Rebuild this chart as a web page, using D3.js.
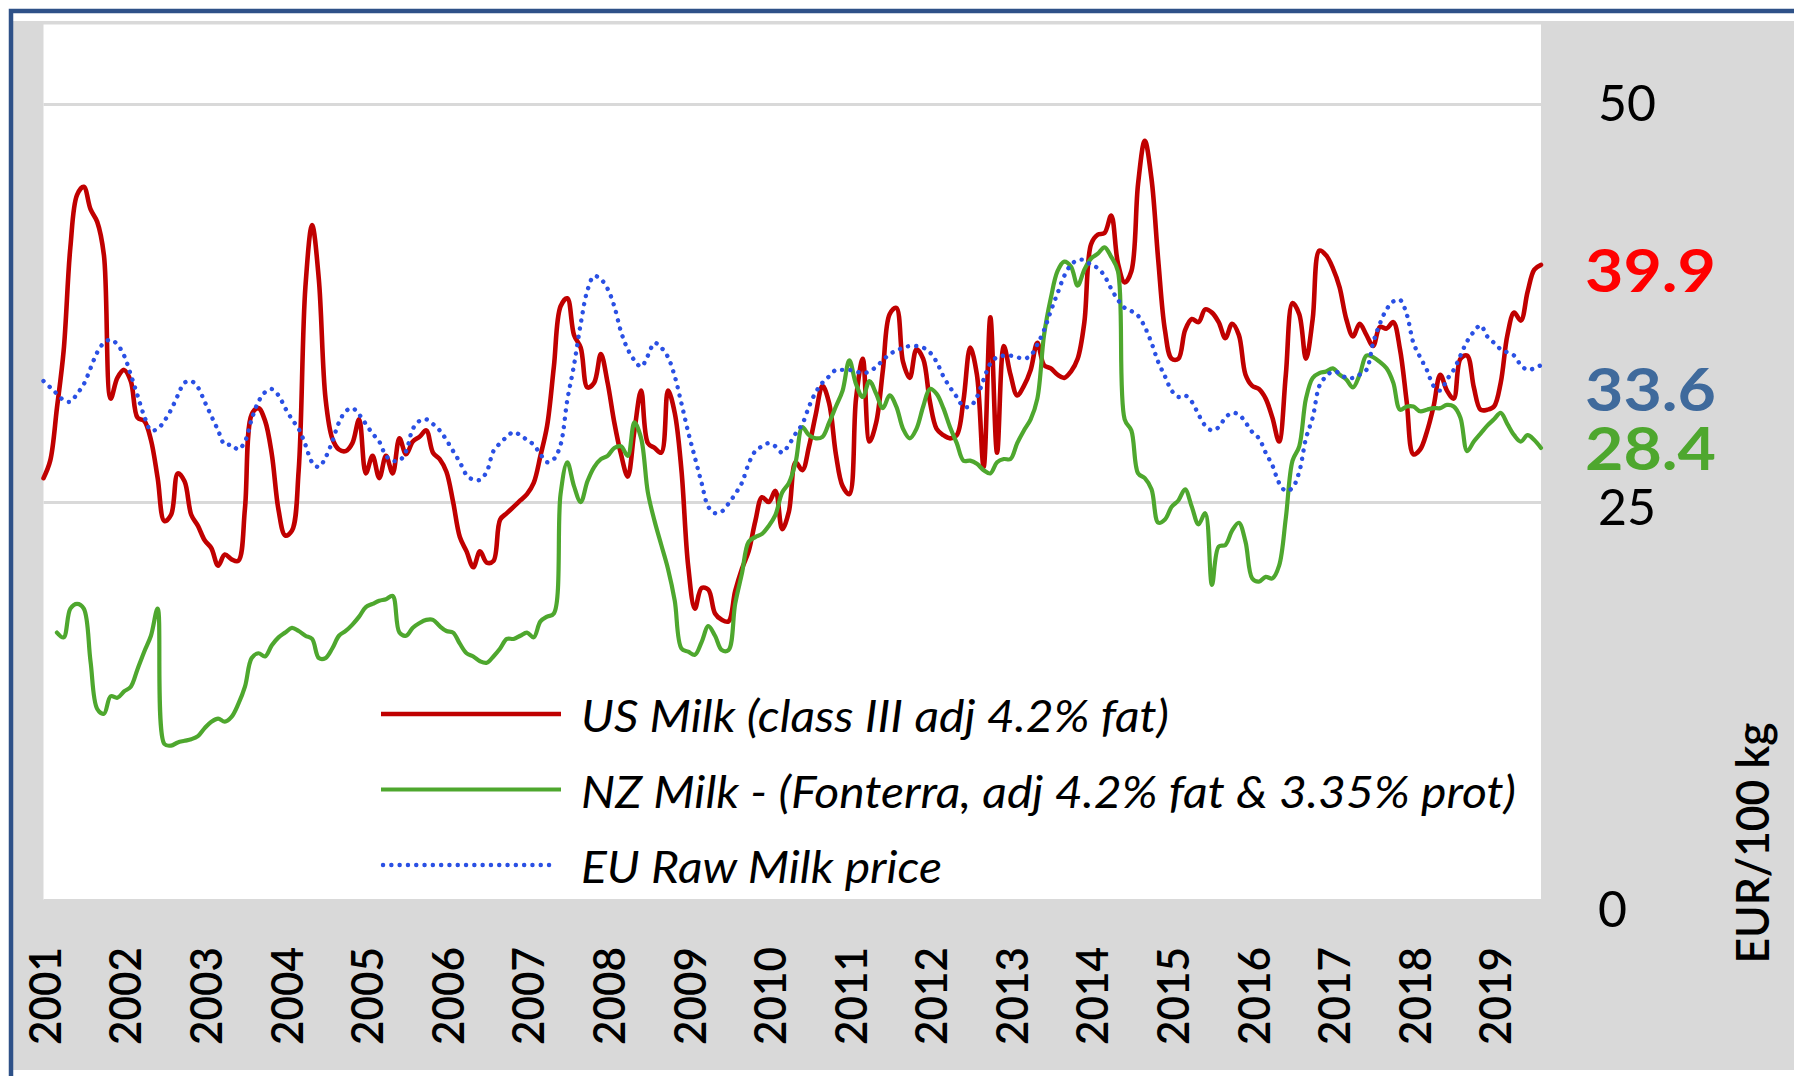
<!DOCTYPE html>
<html>
<head>
<meta charset="utf-8">
<script src="https://cdn.jsdelivr.net/npm/d3@7"></script>
<style>
  body { margin: 0; background: #fff; }
  text { font-family: Lato, "Open Sans", sans-serif; }
</style>
</head>
<body>
<script>
// monthly prices, EUR/100 kg, Jan 2001 - Aug 2019
var years = d3.range(2001, 2020);

var usMilk = [
  26.5, 27.6, 30.9, 34.5, 41.0, 44.3, 44.8, 43.4, 42.6, 40.5, 31.5, 32.8, 33.3, 32.6, 30.3, 30.1, 28.9, 26.5, 23.8, 24.2, 26.8, 26.3, 24.2, 23.5, 22.6, 22.1, 21.0, 21.7,
  21.4, 21.3, 24.6, 30.5, 30.9, 30.1, 28.0, 24.5, 22.9, 23.2, 27.0, 38.5, 42.4, 39.0, 31.5, 29.0, 28.3, 28.2, 28.7, 30.2, 26.8, 27.9, 26.5, 27.9, 26.8, 29.0, 28.0, 28.8,
  29.1, 29.5, 28.1, 27.7, 26.9, 25.0, 22.8, 21.9, 20.9, 21.9, 21.2, 21.3, 23.9, 24.3, 24.7, 25.1, 25.5, 26.2, 27.9, 29.8, 33.5, 37.3, 37.8, 35.5, 34.7, 32.2, 32.5, 34.3,
  32.5, 30.0, 28.0, 26.6, 29.5, 32.0, 28.7, 28.4, 28.1, 32.0, 30.6, 27.0, 21.0, 18.3, 19.6, 19.5, 18.0, 17.6, 17.5, 19.4, 20.8, 21.9, 23.8, 25.3, 25.0, 25.7, 23.3, 24.4, 27.5,
  27.0, 28.5, 30.5, 32.3, 31.2, 28.0, 26.0, 25.5, 31.5, 34.0, 28.8, 30.0, 33.3, 36.8, 37.2, 33.8, 32.8, 34.6, 34.0, 31.3, 29.6, 29.2, 29.0, 29.2, 31.4, 34.7, 33.0, 27.2, 36.6,
  28.1, 34.8, 33.0, 31.7, 32.3, 33.3, 35.0, 33.6, 33.4, 33.0, 32.8, 33.2, 34.0, 36.3, 41.2, 41.8, 41.9, 43.0, 40.0, 38.8, 39.5, 45.0, 47.7, 45.3, 40.2, 35.8, 34.0,
  34.0, 35.8, 36.5, 36.3, 37.1, 36.9, 36.3, 35.3, 36.2, 35.5, 33.0, 32.3, 32.1, 31.5, 30.3, 28.8, 33.0, 37.5, 36.8, 34.0, 36.5, 40.8, 40.5, 39.7, 38.5, 36.5, 35.4, 36.2, 35.5,
  34.8, 36.0, 35.9, 36.3, 34.6, 31.3, 28.0, 28.3, 29.4, 31.0, 33.0, 32.0, 31.5, 34.0, 34.2, 32.2, 30.8, 30.8, 31.0, 32.5, 35.5, 36.9, 36.4, 38.2, 39.6, 39.9
];

var nzMilk = [
  null, null, 16.8, 16.5, 18.3, 18.6, 18.3, 15.0, 12.0, 11.7, 12.8, 12.7, 13.1, 13.4, 14.5, 15.6, 16.6, 18.3, 9.8, 9.7, 9.9, 10.0, 10.1, 10.3, 10.8, 11.2, 11.4, 11.2,
  11.5, 12.3, 13.4, 15.2, 15.5, 15.3, 16.0, 16.5, 16.8, 17.1, 16.9, 16.6, 16.4, 15.2, 15.2, 15.8, 16.6, 16.9, 17.3, 17.8, 18.4, 18.6, 18.8, 18.9, 19.1, 16.8, 16.6, 17.1,
  17.4, 17.6, 17.6, 17.2, 16.9, 16.8, 16.1, 15.5, 15.3, 15.0, 14.9, 15.3, 15.8, 16.4, 16.4, 16.6, 16.8, 16.5, 17.5, 17.8, 18.0, 25.5, 27.5, 26.0, 25.0, 26.3, 27.2, 27.7, 27.9,
  28.4, 28.5, 27.9, 30.0, 29.0, 25.6, 23.8, 22.3, 20.8, 18.8, 15.8, 15.6, 15.4, 16.2, 17.2, 16.6, 15.7, 15.7, 18.6, 20.5, 22.5, 22.8, 23.0, 23.5, 24.2, 25.6, 26.2, 27.5,
  29.7, 29.2, 29.0, 29.1, 30.0, 31.0, 32.0, 33.9, 32.4, 31.6, 32.6, 31.8, 30.9, 31.7, 31.0, 29.6, 29.0, 29.6, 31.0, 32.1, 31.8, 30.9, 29.7, 28.7, 27.6, 27.6, 27.4, 27.0,
  26.8, 27.5, 27.7, 27.7, 28.7, 29.5, 30.2, 31.5, 35.5, 37.8, 39.5, 40.1, 39.8, 38.6, 39.6, 40.3, 40.6, 41.0, 40.4, 39.5, 30.2, 29.5, 26.8, 26.5, 25.8, 23.7, 23.9, 24.7, 25.1,
  25.8, 24.7, 23.6, 24.3, 19.8, 22.2, 22.3, 23.2, 23.7, 22.5, 20.2, 20.0, 20.3, 20.2, 21.0, 24.0, 27.6, 28.5, 31.5, 32.8, 33.1, 33.2, 33.4, 33.0, 32.7, 32.2, 33.0, 34.2,
  34.1, 33.8, 33.4, 32.5, 30.8, 31.0, 31.0, 30.7, 30.8, 30.9, 30.9, 31.1, 31.0, 30.3, 28.2, 28.8, 29.3, 29.8, 30.2, 30.6, 29.9, 29.2, 28.8, 29.2, 28.9, 28.4
];

var euMilk = [
  32.6, 32.2, 31.8, 31.4, 31.3, 31.8, 32.4, 33.4, 34.4, 35.0, 35.2, 34.9, 34.2, 33.0, 31.7, 30.4, 29.5, 29.6, 30.1, 30.8, 31.7, 32.5, 32.6, 32.2, 31.3, 30.4, 29.5, 28.6,
  28.6, 28.3, 28.8, 30.2, 31.3, 31.9, 32.1, 31.7, 30.9, 30.2, 29.6, 28.6, 27.5, 27.2, 27.8, 28.8, 30.0, 30.7, 30.9, 30.5, 29.9, 29.3, 28.8, 27.9, 27.6, 27.6, 28.2, 29.6,
  30.1, 30.2, 29.9, 29.5, 28.9, 28.2, 27.5, 26.7, 26.4, 26.4, 26.9, 28.2, 28.7, 29.1, 29.4, 29.2, 28.9, 28.6, 28.0, 27.5, 27.7, 28.6, 31.4, 33.6, 36.2, 38.3, 39.2, 39.0, 38.4,
  37.3, 35.7, 34.6, 33.9, 33.5, 34.2, 35.0, 34.7, 34.1, 32.9, 31.2, 29.4, 27.8, 26.2, 24.7, 24.3, 24.4, 24.9, 25.5, 26.2, 27.4, 28.2, 28.5, 28.7, 28.5, 28.1, 28.6, 29.3,
  29.9, 31.0, 31.9, 32.5, 32.9, 33.3, 33.3, 33.3, 33.2, 33.1, 33.2, 33.5, 33.9, 34.3, 34.5, 34.7, 34.8, 34.8, 34.7, 34.4, 33.8, 32.9, 32.2, 31.6, 31.0, 31.0, 31.6, 32.7,
  33.7, 34.1, 34.2, 34.2, 34.1, 34.0, 34.2, 34.9, 35.8, 37.0, 38.1, 39.2, 39.9, 40.2, 40.2, 39.9, 39.7, 39.2, 38.4, 37.7, 37.2, 37.0, 36.7, 36.0, 35.0, 33.8, 32.9, 32.0, 31.6,
  31.7, 31.3, 30.5, 29.8, 29.5, 29.7, 30.3, 30.6, 30.5, 30.0, 29.4, 29.0, 28.1, 27.3, 26.2, 25.7, 25.9, 26.9, 29.0, 30.3, 32.3, 32.9, 33.2, 33.1, 32.8, 32.8, 33.0, 33.3,
  35.0, 36.2, 37.1, 37.6, 37.7, 36.8, 35.0, 34.1, 33.3, 32.3, 32.0, 32.7, 33.3, 34.2, 35.1, 35.7, 36.1, 35.4, 35.0, 34.6, 34.4, 34.2, 33.6, 33.3, 33.4, 33.6
];

var seriesNames = [
  "US Milk (class III adj 4.2% fat)",
  "NZ Milk - (Fonterra, adj 4.2% fat & 3.35% prot)",
  "EU Raw Milk price"
];
var yTicks = [0, 25, 50];
var yUnit = "EUR/100 kg";

var width = 1794;
var height = 1076;

var series = [
  { name: seriesNames[0], values: usMilk, color: "#c00000", label: "#ff0000", w: 4.6, dash: null, nudge: 6, legendLen: 588 },
  { name: seriesNames[1], values: nzMilk, color: "#4ea72e", label: "#4ea72e", w: 4.2, dash: null, nudge: 0, legendLen: 935 },
  { name: seriesNames[2], values: euMilk, color: "#2a50e4", label: "#3f6a9c", w: 4.4, dash: "0.1 8.2", nudge: 24, legendLen: 361 }
];

var plotLeft = 43.5, plotRight = 1541, plotTop = 24.5, plotBottom = 900;

var x = d3.scaleLinear().domain([0, usMilk.length - 1]).range([plotLeft, plotRight]);
var y = d3.scaleLinear().domain([0, 55]).range([plotBottom, plotTop]);

var svg = d3.select("body")
  .append("svg")
  .attr("width", width)
  .attr("height", height);

// slide frame + chart area
svg.append("rect")
  .attr("x", 13).attr("y", 21)
  .attr("width", width - 13).attr("height", 1049)
  .attr("fill", "#d9d9d9");

svg.append("rect")
  .attr("x", plotLeft).attr("y", plotTop)
  .attr("width", plotRight - plotLeft).attr("height", plotBottom - plotTop)
  .attr("fill", "#fff");

svg.append("path")
  .attr("d", "M11,1076 V11 H1794")
  .attr("fill", "none")
  .attr("stroke", "#2e5188")
  .attr("stroke-width", 4.5);

// value axis on the right, gridlines across
var yAxis = svg.append("g")
  .attr("transform", "translate(" + plotRight + ",0)")
  .call(d3.axisRight(y)
    .tickValues(yTicks)
    .tickSize(-(plotRight - plotLeft))
    .tickPadding(57));

yAxis.select(".domain").remove();
yAxis.selectAll("line")
  .attr("stroke", "#d9d9d9")
  .attr("stroke-width", 3);
yAxis.selectAll("text")
  .attr("fill", "#000")
  .attr("font-size", 50)
  .attr("text-anchor", "start")
  .attr("dy", function(d) { return d === 0 ? "0.52em" : (d === 25 ? "0.45em" : "0.32em"); });

// year axis
var xAxis = svg.append("g")
  .attr("transform", "translate(0," + plotBottom + ")")
  .call(d3.axisBottom(x)
    .tickValues(years.map(function(yr, i) { return i * 12; }))
    .tickFormat(function(m) { return years[m / 12]; })
    .tickSize(0));

xAxis.select(".domain").remove();
xAxis.selectAll("text")
  .attr("x", 0).attr("y", 0)
  .attr("dy", "0.36em")
  .attr("transform", "translate(1,96) rotate(-90)")
  .attr("text-anchor", "middle")
  .attr("fill", "#000")
  .attr("font-size", 44)
  .attr("font-weight", 600)
  .attr("textLength", 98)
  .attr("lengthAdjust", "spacingAndGlyphs");

svg.append("text")
  .attr("transform", "translate(1752,843) rotate(-90)")
  .attr("text-anchor", "middle")
  .attr("dy", "0.36em")
  .attr("font-size", 46)
  .attr("font-weight", 600)
  .attr("textLength", 241)
  .attr("lengthAdjust", "spacingAndGlyphs")
  .text(yUnit);

// lines
var line = d3.line()
  .defined(function(d) { return d != null; })
  .x(function(d, i) { return x(i); })
  .y(function(d) { return y(d); })
  .curve(d3.curveCatmullRom.alpha(0.5));

svg.selectAll(".series")
  .data(series)
  .enter()
  .append("path")
  .attr("class", "series")
  .attr("d", function(s) { return line(s.values); })
  .attr("fill", "none")
  .attr("stroke", function(s) { return s.color; })
  .attr("stroke-width", function(s) { return s.w; })
  .attr("stroke-dasharray", function(s) { return s.dash; })
  .attr("stroke-linecap", "round")
  .attr("stroke-linejoin", "round");

// last-value labels
svg.selectAll(".last")
  .data(series)
  .enter()
  .append("text")
  .attr("class", "last")
  .attr("x", 1585)
  .attr("y", function(s) { return y(s.values[s.values.length - 1]) + s.nudge; })
  .attr("dy", "0.36em")
  .attr("font-size", 60)
  .attr("font-weight", 700)
  .attr("fill", function(s) { return s.label; })
  .attr("textLength", 131)
  .attr("lengthAdjust", "spacingAndGlyphs")
  .text(function(s) { return d3.format(".1f")(s.values[s.values.length - 1]); });

// legend
var legend = svg.selectAll(".legend")
  .data(series)
  .enter()
  .append("g")
  .attr("class", "legend")
  .attr("transform", function(s, i) { return "translate(381," + (714 + i * 75.5) + ")"; });

legend.append("line")
  .attr("x1", function(s) { return s.dash ? 2 : 0; })
  .attr("x2", function(s) { return s.dash ? 176 : 180; })
  .attr("stroke", function(s) { return s.color; })
  .attr("stroke-width", function(s) { return s.w; })
  .attr("stroke-dasharray", function(s) { return s.dash; })
  .attr("stroke-linecap", function(s) { return s.dash ? "round" : "butt"; });

legend.append("text")
  .attr("x", 200)
  .attr("y", 18)
  .attr("font-size", 45)
  .attr("font-style", "italic")
  .attr("fill", "#000")
  .attr("textLength", function(s) { return s.legendLen; })
  .attr("lengthAdjust", "spacingAndGlyphs")
  .text(function(s) { return s.name; });
</script>
</body>
</html>
